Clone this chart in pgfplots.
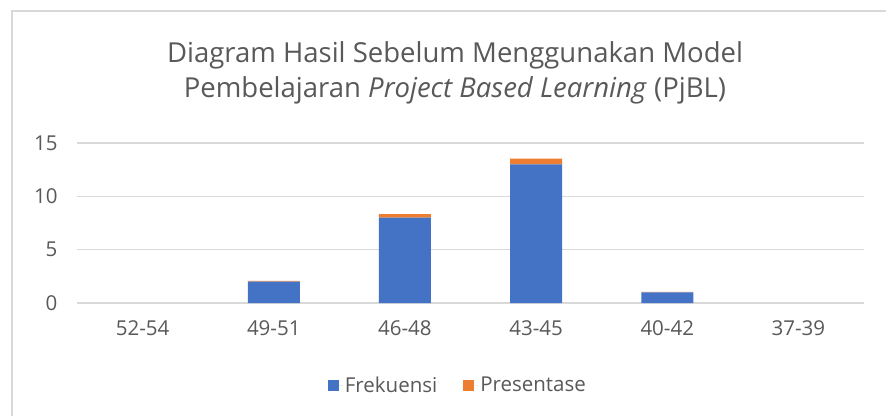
\documentclass[border=0pt]{standalone}
\usepackage{fontspec}
\setmainfont{Open Sans}
\usepackage{pgfplots}
\pgfplotsset{compat=1.18}
\definecolor{cblue}{HTML}{4472C4}
\definecolor{corange}{HTML}{ED7D31}
\definecolor{ctext}{HTML}{595959}
\definecolor{cgrid}{HTML}{D9D9D9}
\begin{document}
\begin{tikzpicture}[x=1pt,y=1pt]
\path[use as bounding box] (0,0) rectangle (886,416);
\fill[white] (0,0) rectangle (886,416);
\draw[cgrid, line width=2pt] (12,0) -- (12,405) -- (886,405);
\node[text=ctext, align=center, font=\fontsize{27.5}{35}\selectfont] at (455,343)
  {Diagram Hasil Sebelum Menggunakan Model\\Pembelajaran \textit{Project Based Learning} (PjBL)};
\begin{axis}[
  at={(77pt,113pt)}, anchor=south west,
  scale only axis, width=787pt, height=160pt,
  ybar stacked, bar width=52pt,
  xmin=-0.5, xmax=5.5, ymin=0, ymax=15,
  xtick={0,1,2,3,4,5},
  xticklabels={52-54,49-51,46-48,43-45,40-42,37-39},
  ytick={0,5,10,15},
  axis line style={draw=none},
  major tick length=0pt,
  ymajorgrids, grid style={cgrid, line width=1.5pt},
  /pgf/number format/assume math mode=true,
  tick label style={text=ctext, font=\fontsize{20.5}{24}\selectfont},
  xticklabel style={yshift=-14pt},
  yticklabel style={xshift=-16pt},
  legend style={at={(0.484,-0.5125)}, anchor=center, draw=none, fill=none,
    legend columns=2, text=ctext, font=\fontsize{20.5}{24}\selectfont,
    /tikz/every even column/.append style={column sep=24pt}},
  legend image code/.code={\path (0pt,0pt) -- (15pt,0pt); \fill[#1] (0pt,-5.5pt) rectangle (11pt,5.5pt);},
]
\addplot[fill=cblue, draw=none] coordinates {(0,0) (1,2) (2,8) (3,13) (4,1) (5,0)};
\addplot[fill=corange, draw=none] coordinates {(0,0) (1,0.08) (2,0.33) (3,0.54) (4,0.04) (5,0)};
\legend{Frekuensi, Presentase}
\end{axis}
\end{tikzpicture}
\end{document}
